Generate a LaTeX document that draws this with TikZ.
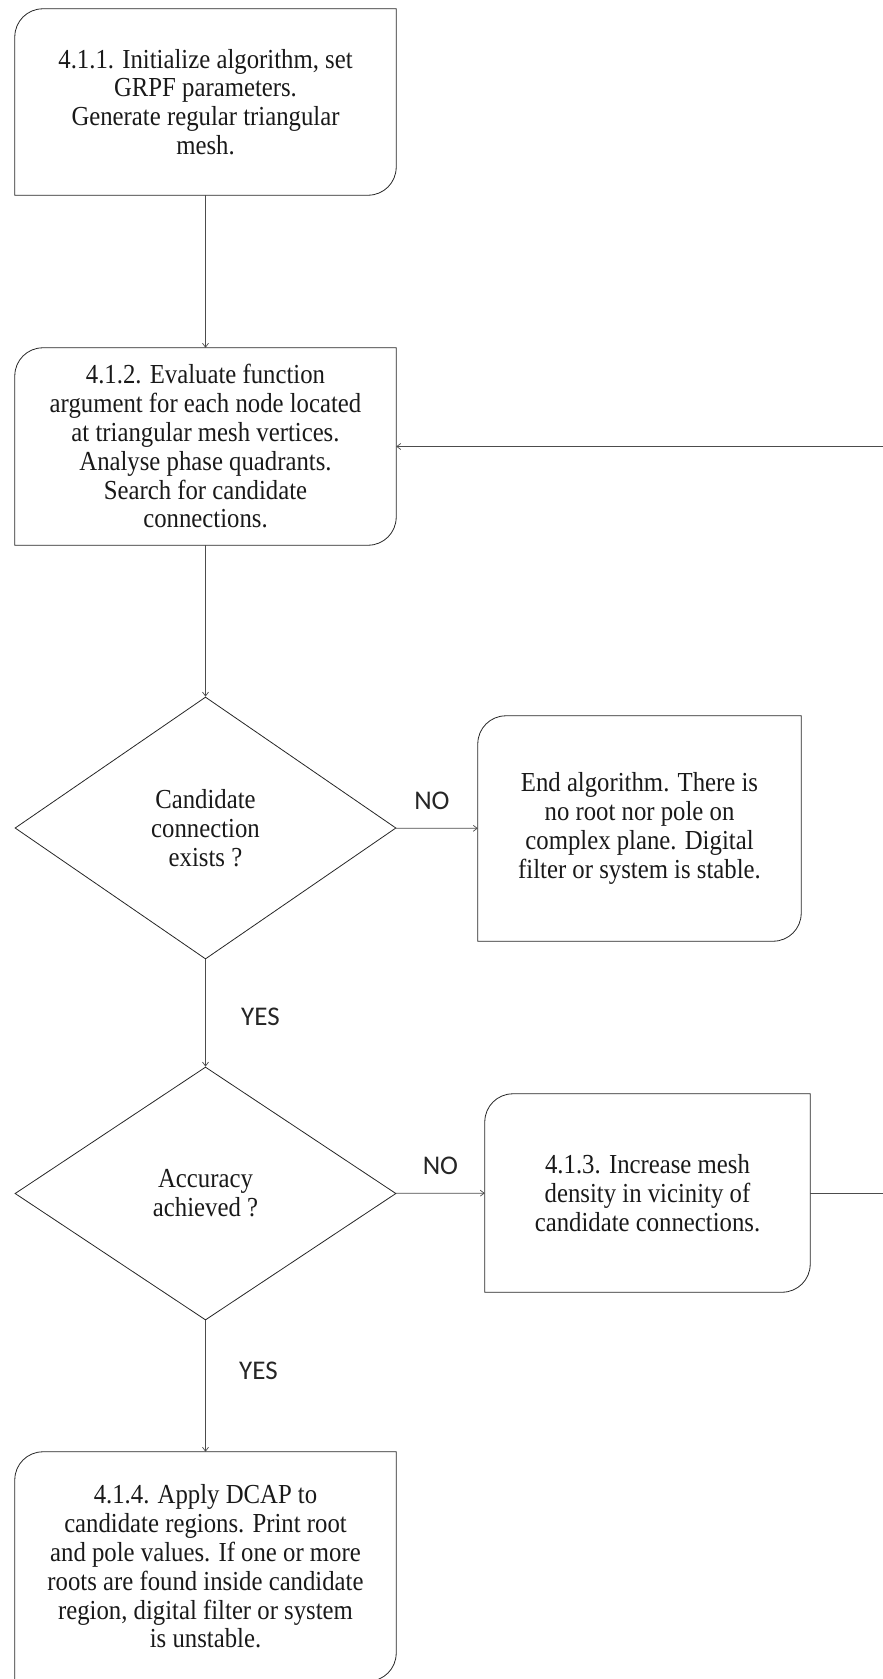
\documentclass[tikz,border=0pt]{standalone}
\usepackage{fontspec}
\setmainfont{Liberation Serif}[FakeStretch=0.9]
\newfontfamily\answerfont{Carlito}
\usepackage{tikz}
\usetikzlibrary{shapes.geometric,arrows.meta}

\begin{document}
\begin{tikzpicture}[
    x=1pt, y=1pt,
    >={Straight Barb[length=4pt,width=6pt]},
    proc/.style={rectangle, draw=none, inner sep=0pt, align=center,
        text centered, text=black!90, font=\fontsize{27.5}{28.8}\selectfont},
    decision/.style={diamond, draw=black!85, line width=0.8pt, inner sep=0pt,
        minimum width=381pt, align=center, text=black!90,
        font=\fontsize{27.5}{28.8}\selectfont},
    answer/.style={text=black!85, font=\answerfont\fontsize{27}{30}\selectfont},
    boxline/.style={draw=black!85, line width=0.8pt},
    link/.style={->, draw=black!70, line width=0.7pt}
]
\useasboundingbox (0,0) rectangle (883,-1679);

\node [proc, minimum width=381pt, minimum height=186pt] (init) at (205.5,-102)
    {4.1.1. Initialize algorithm, set\\GRPF parameters.\\Generate regular triangular\\mesh.};
\node [proc, minimum width=381pt, minimum height=197pt] (eval) at (205.5,-446.5)
    {4.1.2. Evaluate function\\argument for each node located\\at triangular mesh vertices.\\Analyse phase quadrants.\\Search for candidate\\connections.};
\node [decision, minimum height=262pt] (exists) at (205.5,-828)
    {Candidate\\connection\\exists ?};
\node [proc, minimum width=323pt, minimum height=225pt] (stop) at (639.5,-828.5)
    {End algorithm. There is\\no root nor pole on\\complex plane. Digital\\filter or system is stable.};
\node [decision, minimum height=253pt] (accuracy) at (205.5,-1193.5)
    {Accuracy\\achieved ?};
\node [proc, minimum width=325pt, minimum height=198pt] (refine) at (647.5,-1193)
    {4.1.3. Increase mesh\\density in vicinity of\\candidate connections.};
\node [proc, minimum width=381pt, minimum height=229pt] (dcap) at (205.5,-1566.5)
    {4.1.4. Apply DCAP to\\candidate regions. Print root\\and pole values. If one or more\\roots are found inside candidate\\region, digital filter or system\\is unstable.};

% boxes with two rounded corners
\foreach \n in {init,eval,stop,refine,dcap}
    \draw [boxline] (\n.south west) -- ([yshift=-28pt]\n.north west)
        arc[start angle=180, end angle=90, radius=28pt] -- (\n.north east)
        -- ([yshift=28pt]\n.south east)
        arc[start angle=0, end angle=-90, radius=28pt] -- cycle;

\draw [link] (init) -- (eval);
\draw [link] (eval) -- (exists);
\draw [link] (exists) -- node [answer, above=15pt, xshift=-5pt] (no1) {NO} (stop);
\draw [link] (exists) -- node [answer, right=32pt, yshift=-4pt] (yes1) {YES} (accuracy);
\draw [link] (accuracy) -- node [answer, above=15pt] (no2) {NO} (refine);
\draw [link] (accuracy) -- node [answer, right=30pt, yshift=15pt] (yes2) {YES} (dcap);
\draw [link] (refine.east) -- ++(90,0) |- (eval.east);

\end{tikzpicture}
\end{document}
